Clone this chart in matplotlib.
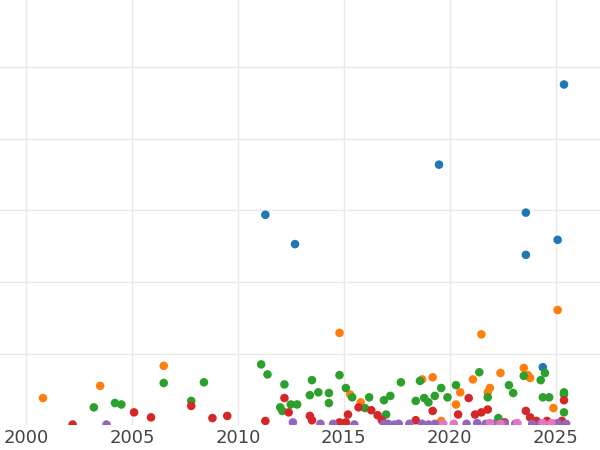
import matplotlib
matplotlib.use("Agg")
import matplotlib.pyplot as plt

blue_x = [2011.3, 2012.7, 2019.5, 2023.6, 2023.6, 2025.1, 2025.4, 2024.4]
blue_y = [2.94, 2.53, 3.64, 2.97, 2.38, 2.59, 4.76, 0.81]

orange_x = [2000.8, 2003.5, 2006.5, 2014.8, 2021.5, 2025.1, 2015.3, 2015.8, 2018.7, 2019.2, 2020.3,
            2020.5, 2021.1, 2021.8, 2021.9, 2022.4, 2023.5, 2023.7, 2023.8, 2024.9, 2019.6]
orange_y = [0.38, 0.55, 0.83, 1.29, 1.27, 1.61, 0.43, 0.32, 0.64, 0.67, 0.29,
            0.46, 0.64, 0.46, 0.52, 0.73, 0.80, 0.70, 0.66, 0.24, 0.06]

green_x = [2003.2, 2004.2, 2004.5, 2006.5, 2007.8, 2008.4, 2011.1, 2011.4, 2012.2, 2012.0, 2012.5,
           2012.8, 2012.1, 2013.4, 2013.5, 2013.8, 2014.3, 2014.3, 2014.8, 2015.1, 2015.4, 2016.0,
           2016.2, 2016.9, 2017.2, 2017.0, 2017.7, 2018.4, 2018.6, 2018.8, 2019.0, 2019.3, 2019.6,
           2019.9, 2020.3, 2021.4, 2021.8, 2022.3, 2022.8, 2023.0, 2023.5, 2024.3, 2024.4, 2024.7,
           2024.5, 2025.4, 2025.4, 2025.4]
green_y = [0.25, 0.31, 0.29, 0.59, 0.34, 0.60, 0.85, 0.71, 0.57, 0.25, 0.29,
           0.29, 0.20, 0.42, 0.63, 0.46, 0.45, 0.31, 0.70, 0.52, 0.39, 0.24,
           0.39, 0.35, 0.41, 0.15, 0.60, 0.34, 0.62, 0.38, 0.32, 0.41, 0.52,
           0.39, 0.56, 0.74, 0.39, 0.10, 0.56, 0.45, 0.69, 0.63, 0.39, 0.39,
           0.73, 0.43, 0.46, 0.18]

red_x = [2002.2, 2005.1, 2005.9, 2007.8, 2008.8, 2009.5, 2011.3, 2012.2, 2012.4, 2013.4, 2013.5,
         2014.8, 2015.1, 2015.2, 2015.7, 2016.3, 2016.6, 2016.8, 2018.4, 2019.2, 2020.4, 2020.9,
         2021.2, 2021.5, 2021.8, 2022.6, 2023.6, 2023.8, 2024.1, 2025.4, 2025.3, 2024.6]
red_y = [0.01, 0.18, 0.11, 0.27, 0.10, 0.13, 0.06, 0.38, 0.18, 0.13, 0.07,
         0.04, 0.04, 0.15, 0.25, 0.21, 0.14, 0.07, 0.07, 0.20, 0.15, 0.38,
         0.15, 0.18, 0.22, 0.04, 0.20, 0.11, 0.06, 0.35, 0.06, 0.06]

purple_x = [2003.8, 2012.6, 2013.9, 2014.5, 2015.5, 2016.9, 2017.1, 2017.4, 2017.6, 2018.1, 2018.7,
            2019.0, 2019.3, 2020.8, 2021.3, 2021.7, 2022.1, 2022.6, 2023.1, 2023.9, 2024.3, 2024.9,
            2025.1, 2025.5]
purple_y = [0.01, 0.04, 0.02, 0.02, 0.01, 0.02, 0.02, 0.01, 0.02, 0.02, 0.02,
            0.01, 0.02, 0.02, 0.03, 0.02, 0.02, 0.02, 0.02, 0.02, 0.02, 0.02,
            0.03, 0.02]

pink_x = [2019.7, 2020.2, 2021.9, 2022.4, 2023.2, 2024.4, 2024.8]
pink_y = [0.02, 0.02, 0.03, 0.02, 0.03, 0.03, 0.03]

series = [
    (blue_x, blue_y, "#1f77b4"),
    (orange_x, orange_y, "#ff7f0e"),
    (green_x, green_y, "#2ca02c"),
    (red_x, red_y, "#d62728"),
    (purple_x, purple_y, "#9467bd"),
    (pink_x, pink_y, "#e377c2"),
]

fig = plt.figure(figsize=(6, 4.5), dpi=100)
ax = fig.add_axes([0, 0.055, 1, 0.945])
for xs, ys, color in series:
    ax.scatter(xs, ys, s=38, color=color, edgecolors="none", zorder=3)

ax.set_xlim(1998.77, 2027.1)
ax.set_ylim(0, 5.94)
ax.set_xticks([2000, 2005, 2010, 2015, 2020, 2025])
ax.set_yticks([1, 2, 3, 4, 5])
ax.tick_params(axis="y", left=False, labelleft=False)
ax.tick_params(axis="x", length=0, labelsize=13, labelcolor="#444444", pad=3)
ax.grid(color="#e8e8e8", linewidth=1, zorder=0)
for spine in ax.spines.values():
    spine.set_visible(False)

fig.savefig("out.png", facecolor="white")
